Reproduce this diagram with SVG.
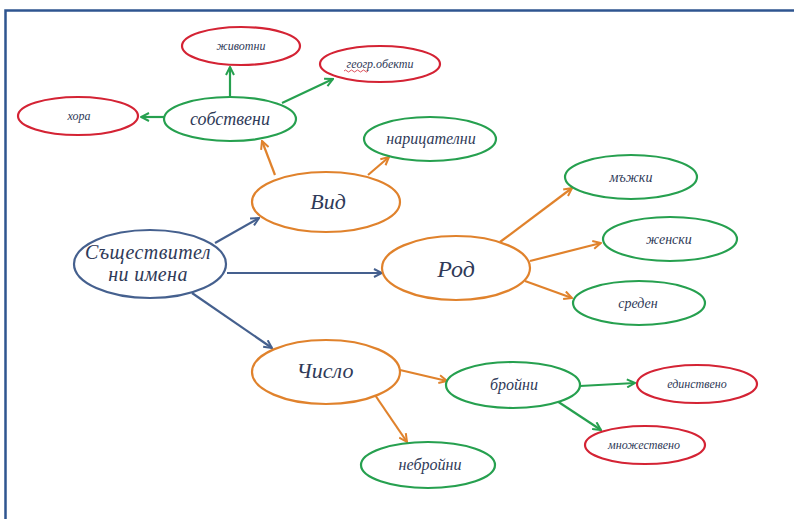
<svg xmlns="http://www.w3.org/2000/svg" width="794" height="519" viewBox="0 0 794 519">
<defs>
<style>
.r{fill:#fff;stroke:#d42334;stroke-width:2.2}
.g{fill:#fff;stroke:#26a04f;stroke-width:2.2}
.o{fill:#fff;stroke:#e0822c;stroke-width:2.2}
.b{fill:#fff;stroke:#45608e;stroke-width:2.2}
text{font-family:"Liberation Serif","DejaVu Serif",serif;font-style:italic;fill:#2f3a58;text-anchor:middle}
.cg{stroke:#26a04f;stroke-width:2.2;fill:none}
.co{stroke:#e0822c;stroke-width:2.2;fill:none}
.cb{stroke:#45608e;stroke-width:2.2;fill:none}
</style>
<marker id="ag" viewBox="0 0 10 10" refX="9" refY="5" markerWidth="10" markerHeight="10" markerUnits="userSpaceOnUse" orient="auto"><path d="M1,1 L9,5 L1,9" fill="none" stroke="#26a04f" stroke-width="2"/></marker>
<marker id="ao" viewBox="0 0 10 10" refX="9" refY="5" markerWidth="10" markerHeight="10" markerUnits="userSpaceOnUse" orient="auto"><path d="M1,1 L9,5 L1,9" fill="none" stroke="#e0822c" stroke-width="2"/></marker>
<marker id="ab" viewBox="0 0 10 10" refX="9" refY="5" markerWidth="10" markerHeight="10" markerUnits="userSpaceOnUse" orient="auto"><path d="M1,1 L9,5 L1,9" fill="none" stroke="#45608e" stroke-width="2"/></marker>
</defs>
<rect width="794" height="519" fill="#fff"/>
<path d="M5.5,519 L5.5,10.5 L794,10.5" fill="none" stroke="#2f5590" stroke-width="2.5"/>
<g id="connectors">
<line class="cg" x1="164" y1="117" x2="141" y2="117" marker-end="url(#ag)"/>
<line class="cg" x1="230" y1="97" x2="230" y2="67" marker-end="url(#ag)"/>
<line class="cg" x1="282" y1="103" x2="333" y2="79" marker-end="url(#ag)"/>
<line class="co" x1="275" y1="175" x2="262" y2="141" marker-end="url(#ao)"/>
<line class="co" x1="368" y1="175" x2="389" y2="157" marker-end="url(#ao)"/>
<line class="cb" x1="215" y1="243" x2="259" y2="218" marker-end="url(#ab)"/>
<line class="cb" x1="227" y1="273" x2="382" y2="273" marker-end="url(#ab)"/>
<line class="cb" x1="192" y1="293" x2="272" y2="348" marker-end="url(#ab)"/>
<line class="co" x1="500" y1="242" x2="572" y2="188" marker-end="url(#ao)"/>
<line class="co" x1="530" y1="261" x2="601" y2="243" marker-end="url(#ao)"/>
<line class="co" x1="525" y1="281" x2="572" y2="298" marker-end="url(#ao)"/>
<line class="co" x1="400" y1="370" x2="447" y2="381" marker-end="url(#ao)"/>
<line class="co" x1="375" y1="395" x2="407" y2="442" marker-end="url(#ao)"/>
<line class="cg" x1="580" y1="386" x2="635" y2="383" marker-end="url(#ag)"/>
<line class="cg" x1="557" y1="401" x2="601" y2="430" marker-end="url(#ag)"/>
</g>
<g id="zhivotni"><ellipse class="r" cx="241" cy="46" rx="59" ry="19"/><text x="241" y="50" font-size="12">животни</text></g>
<g id="geogr"><ellipse class="r" cx="380" cy="64" rx="60" ry="18"/><text x="380" y="68" font-size="12">геогр.обекти</text><path d="M344,71 q1.5,-2 3,0 t3,0 t3,0 t3,0 t3,0 t3,0 t3,0 t3,0" fill="none" stroke="#d42334" stroke-width="0.8"/></g>
<g id="hora"><ellipse class="r" cx="78" cy="116" rx="60" ry="19"/><text x="79" y="120" font-size="12">хора</text></g>
<g id="sobstveni"><ellipse class="g" cx="230" cy="119" rx="66" ry="22"/><text x="230" y="125" font-size="18">собствени</text></g>
<g id="naricatelni"><ellipse class="g" cx="430" cy="139" rx="66" ry="22"/><text x="431" y="144" font-size="16">нарицателни</text></g>
<g id="vid"><ellipse class="o" cx="326" cy="202" rx="74" ry="30"/><text x="328" y="209" font-size="22">Вид</text></g>
<g id="sashtestvitelni"><ellipse class="b" cx="150" cy="264" rx="76" ry="34"/><text x="148" y="259" font-size="20" letter-spacing="0.4">Съществител</text><text x="148" y="281" font-size="20" letter-spacing="0.4">ни имена</text></g>
<g id="rod"><ellipse class="o" cx="456" cy="268" rx="74" ry="32"/><text x="456" y="277" font-size="24">Род</text></g>
<g id="mazhki"><ellipse class="g" cx="631" cy="177" rx="66" ry="22"/><text x="631" y="182" font-size="14">мъжки</text></g>
<g id="zhenski"><ellipse class="g" cx="670" cy="239" rx="67" ry="22"/><text x="669" y="244" font-size="14">женски</text></g>
<g id="sreden"><ellipse class="g" cx="639" cy="303" rx="66" ry="22"/><text x="638" y="308" font-size="14">среден</text></g>
<g id="chislo"><ellipse class="o" cx="326" cy="372" rx="74" ry="32"/><text x="325" y="378" font-size="22">Число</text></g>
<g id="broyni"><ellipse class="g" cx="513" cy="385" rx="67" ry="23"/><text x="514" y="390" font-size="16">бройни</text></g>
<g id="nebroyni"><ellipse class="g" cx="428" cy="465" rx="67" ry="23"/><text x="430" y="470" font-size="16">небройни</text></g>
<g id="edinstveno"><ellipse class="r" cx="697" cy="384" rx="60" ry="19"/><text x="697" y="388" font-size="12">единствено</text></g>
<g id="mnozhestveno"><ellipse class="r" cx="645" cy="445" rx="60" ry="19"/><text x="644" y="449" font-size="12">множествено</text></g>
</svg>
